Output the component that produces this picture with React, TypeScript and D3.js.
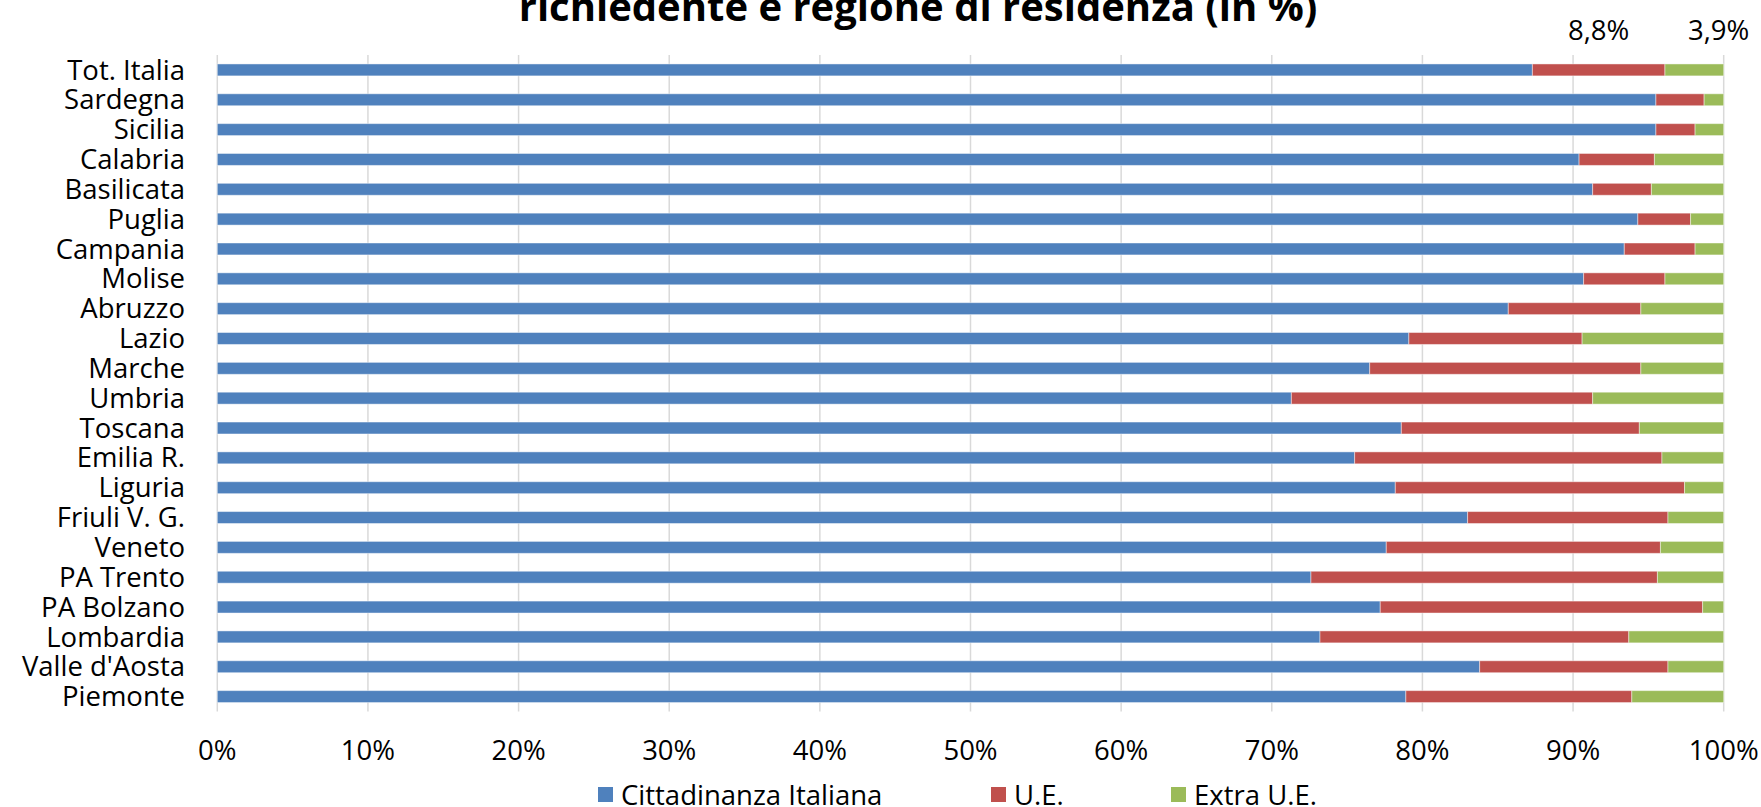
import React from "react";
import * as d3 from "d3";

const categories = [
  "Tot. Italia", "Sardegna", "Sicilia", "Calabria", "Basilicata", "Puglia",
  "Campania", "Molise", "Abruzzo", "Lazio", "Marche", "Umbria", "Toscana",
  "Emilia R.", "Liguria", "Friuli V. G.", "Veneto", "PA Trento", "PA Bolzano",
  "Lombardia", "Valle d'Aosta", "Piemonte",
];
const italiana = [87.3, 95.5, 95.5, 90.4, 91.3, 94.3, 93.4, 90.7, 85.7, 79.1, 76.5, 71.3, 78.6, 75.5, 78.2, 83.0, 77.6, 72.6, 77.2, 73.2, 83.8, 78.9];
const ue = [8.8, 3.2, 2.6, 5.0, 3.9, 3.5, 4.7, 5.4, 8.8, 11.5, 18.0, 20.0, 15.8, 20.4, 19.2, 13.3, 18.2, 23.0, 21.4, 20.5, 12.5, 15.0];
const extraUe = [3.9, 1.3, 1.9, 4.6, 4.8, 2.2, 1.9, 3.9, 5.5, 9.4, 5.5, 8.7, 5.6, 4.1, 2.6, 3.7, 4.2, 4.4, 1.4, 6.3, 3.7, 6.1];
const seriesNames = ["Cittadinanza Italiana", "U.E.", "Extra U.E."];
const seriesColors = ["#4F81BD", "#C0504D", "#9BBB59"];
const xTicks = [0, 10, 20, 30, 40, 50, 60, 70, 80, 90, 100];
const titleText = "richiedente e regione di residenza (in %)";
const topLabels = ["8,8%", "3,9%"];

const W = 1761;
const H = 807;
const FONT = "'Open Sans', sans-serif";
const FS = 27.5;

export default function App() {
  const left = 217.3;
  const right = 1723.7;
  const top = 55;
  const bottom = 711.5;

  const x = d3.scaleLinear().domain([0, 100]).range([left, right]);
  const y = d3.scaleBand<string>().domain(categories).range([top, bottom]).paddingInner(0.6).paddingOuter(0.3);

  const rows = categories.map((c, i) => ({ cat: c, vals: [italiana[i], ue[i], extraUe[i]] }));
  const stackData = rows.map((r) => ({ cat: r.cat, s0: r.vals[0], s1: r.vals[1], s2: r.vals[2] }));
  const stack = d3.stack<any>().keys(["s0", "s1", "s2"]);
  const layers = stack(stackData);

  const bh = y.bandwidth();
  const tot = rows[0].vals;
  const lbl1x = x(tot[0] + tot[1] / 2);
  const lbl2x = x(100) - 5;

  const legendX = [598, 991, 1171];

  return (
    <svg width={W} height={H} style={{ position: "absolute", left: 0, top: 0, background: "#fff" }} fontFamily={FONT}>
      <text x={918} y={21} textAnchor="middle" fontSize={40} fontWeight={700} fill="#000">{titleText}</text>
      {xTicks.map((t) => (
        <line key={"g" + t} x1={x(t)} x2={x(t)} y1={top} y2={bottom} stroke="#d9d9d9" strokeWidth={1.5} />
      ))}
      {layers.map((layer, li) => (
        <g key={li} fill={seriesColors[li]}>
          {layer.map((d, i) => (
            <rect key={i} x={x(d[0])} width={Math.max(0, x(d[1]) - x(d[0]))} y={y(categories[i])!} height={bh}
              stroke="#ffffff" strokeOpacity={0.45} strokeWidth={1} />
          ))}
        </g>
      ))}
      {categories.map((c) => (
        <text key={c} x={185} y={y(c)! + bh / 2} dy="0.35em" textAnchor="end" fontSize={FS} fill="#000">{c}</text>
      ))}
      {xTicks.map((t) => (
        <text key={"t" + t} x={x(t)} y={750} dy="0.35em" textAnchor="middle" fontSize={FS} fill="#000">{t}%</text>
      ))}
      <text x={lbl1x} y={40} textAnchor="middle" fontSize={FS} fill="#000">{topLabels[0]}</text>
      <text x={lbl2x} y={40} textAnchor="middle" fontSize={FS} fill="#000">{topLabels[1]}</text>
      {seriesNames.map((n, i) => (
        <g key={n}>
          <rect x={legendX[i]} y={787} width={15} height={15} fill={seriesColors[i]} />
          <text x={legendX[i] + 23} y={795} dy="0.35em" fontSize={FS} fill="#000">{n}</text>
        </g>
      ))}
    </svg>
  );
}
